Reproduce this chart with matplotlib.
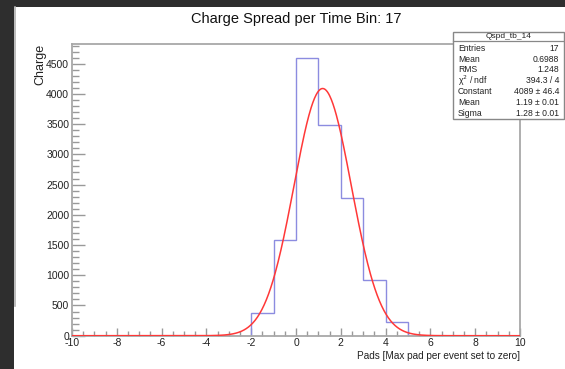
import numpy as np
import matplotlib
matplotlib.use("Agg")
import matplotlib.pyplot as plt
from matplotlib.patches import Rectangle
from matplotlib.lines import Line2D
from matplotlib.ticker import MultipleLocator

plt.rcParams['font.family'] = ['Liberation Sans', 'DejaVu Sans']
plt.rcParams['axes.unicode_minus'] = False

# ---- data ----
bin_edges = [-10, -9, -8, -7, -6, -5, -4, -3, -2, -1, 0, 1, 2, 3, 4, 5, 6, 7, 8, 9, 10]
bin_values = [0, 0, 0, 0, 0, 0, 0, 0, 370, 1580, 4600, 3490, 2275, 920, 222, 0, 0, 0, 0, 0]
fit_constant = 4089.0
fit_mean = 1.19
fit_sigma = 1.28
stats_title = "Qspd_tb_14"
stats_labels = ["Entries", "Mean", "RMS", "χ$^2$ / ndf", "Constant", "Mean", "Sigma"]
stats_values = ["17", "0.6988", "1.248", "394.3 / 4", "4089 ± 46.4", "1.19 ± 0.01", "1.28 ± 0.01"]
title = "Charge Spread per Time Bin: 17"
xlabel = "Pads [Max pad per event set to zero]"
ylabel = "Charge"

W, H = 565, 369
fig = plt.figure(figsize=(W / 100, H / 100), dpi=100, facecolor='#2e2e2e')

def fx(px):
    return px / W

def fy(py):
    return 1 - py / H

# white pad
fig.patches.append(Rectangle((fx(14), 0), 1 - fx(14), fy(7), transform=fig.transFigure,
                             facecolor='white', edgecolor='none', zorder=-5))
fig.add_artist(Line2D([fx(14.5), fx(14.5)], [0.17, fy(7)], transform=fig.transFigure,
                      color='#b0b0b0', lw=1.2, zorder=-4))

ax = fig.add_axes([fx(72), fy(335.7), fx(520) - fx(72), fy(43.7) - fy(335.7)])
ax.set_zorder(1)
ax.set_xlim(-10, 10)
ax.set_ylim(0, 4830)

ax.stairs(bin_values, bin_edges, color='#8c8ce0', lw=1.0, zorder=2)
xs = np.linspace(-10, 10, 801)
ax.plot(xs, fit_constant * np.exp(-0.5 * ((xs - fit_mean) / fit_sigma) ** 2),
        color='#ff3838', lw=1.1, zorder=3)

for s in ax.spines.values():
    s.set_color('#a8a8a8')
    s.set_linewidth(1.3)

ax.xaxis.set_major_locator(MultipleLocator(2))
ax.xaxis.set_minor_locator(MultipleLocator(0.5))
ax.yaxis.set_major_locator(MultipleLocator(500))
ax.yaxis.set_minor_locator(MultipleLocator(100))
ax.tick_params(axis='x', which='major', direction='in', length=6, width=1, color='#999999',
               labelsize=7.5, labelcolor='#222222', pad=2)
ax.tick_params(axis='x', which='minor', direction='in', length=3.5, width=1, color='#999999')
ax.tick_params(axis='y', which='major', direction='in', length=9, width=1, color='#999999',
               labelsize=7.5, labelcolor='#222222', pad=2)
ax.tick_params(axis='y', which='minor', direction='in', length=5, width=1, color='#999999')
ax.tick_params(top=False, right=False)

fig.text(fx(296), fy(19), title, ha='center', va='center', fontsize=10.5, color='#111111')
fig.text(fx(520), fy(356), xlabel, ha='right', va='center', fontsize=7.2, color='#222222')
fig.text(fx(40), fy(43.7), ylabel, ha='center', va='top', rotation=90, fontsize=9,
         color='#222222')

# stats box
bx0, bx1, by0, by1 = 453, 564, 31.7, 119
fig.patches.append(Rectangle((fx(bx0), fy(by1)), fx(bx1) - fx(bx0), fy(by0) - fy(by1),
                             transform=fig.transFigure, facecolor='white',
                             edgecolor='#888888', lw=1.0, zorder=5))
fig.add_artist(Line2D([fx(bx0), fx(bx1)], [fy(41), fy(41)], transform=fig.transFigure,
                      color='#888888', lw=0.9, zorder=6))
fig.text(fx(508.5), fy(36.2), stats_title, ha='center', va='center', fontsize=6,
         color='#222222', zorder=7)
row_y = [48.3, 59, 69.7, 80.3, 91.7, 102.3, 113.3]
for lab, val, yy in zip(stats_labels, stats_values, row_y):
    fig.text(fx(458), fy(yy), lab, ha='left', va='center', fontsize=6.2, color='#222222',
             zorder=7)
    fig.text(fx(559), fy(yy), val, ha='right', va='center', fontsize=6.2, color='#222222',
             zorder=7)

fig.savefig("out.png", dpi=100, facecolor=fig.get_facecolor())
